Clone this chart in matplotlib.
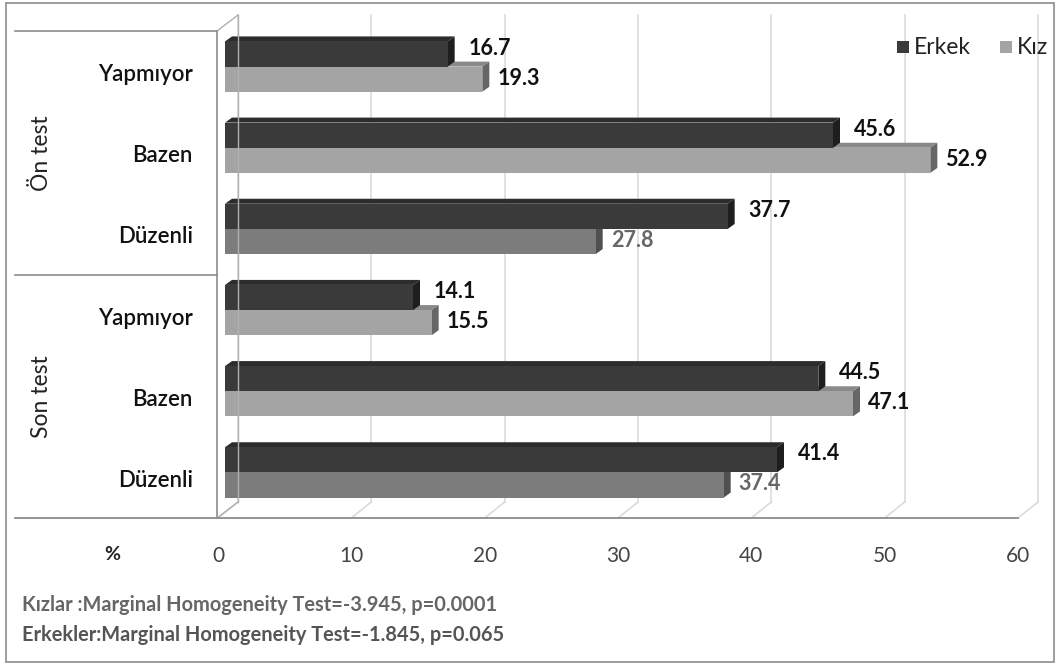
import matplotlib.pyplot as plt
from matplotlib.patches import Polygon, Rectangle
from matplotlib.transforms import IdentityTransform

# data
categories = ['Yapmıyor', 'Bazen', 'Düzenli', 'Yapmıyor', 'Bazen', 'Düzenli']
groups = ['Ön test', 'Son test']
erkek = [16.7, 45.6, 37.7, 14.1, 44.5, 41.4]
kiz = [19.3, 52.9, 27.8, 15.5, 47.1, 37.4]
x_ticks = [0, 10, 20, 30, 40, 50, 60]
series_names = ['Erkek', 'Kız']
notes = ['Kızlar :Marginal Homogeneity Test=-3.945, p=0.0001',
         'Erkekler:Marginal Homogeneity Test=-1.845, p=0.065']

# colours (the Düzenli rows of Kız came out darker in the original)
c_erkek = ('#3a3a3a', '#2c2c2c', '#1e1e1e')          # front, top, side
c_kiz = ('#a4a4a4', '#8a8a8a', '#666666')
c_kiz_dark = ('#7c7c7c', '#6a6a6a', '#505050')
kiz_dark = [False, False, True, False, False, True]

plt.rcParams['font.family'] = ['Lato', 'DejaVu Sans']

W, H = 1058, 664
fig = plt.figure(figsize=(W / 100, H / 100), dpi=100)
px = IdentityTransform()

# front plane of the chart: x 0..60 -> 218..1018 px, rows -> 31..518 px
ax = fig.add_axes([218 / W, 1 - 518 / H, 800 / W, 487 / H])
ax.set_xlim(0, 60)
ax.set_ylim(6, 0)
ax.axis('off')
fig.canvas.draw()
T = ax.transData.transform

# outer frame
fig.add_artist(Rectangle((6, 2), 1048, 659, transform=px, fill=False,
                         edgecolor='#8c8c8c', lw=1.2))

# back wall + floor (3D offset)
DX, DY = 20, 16
x0f, yfl = T((0, 6))
_, ytop = T((0, 0))
for t in x_ticks:
    xf, _ = T((t, 6))
    ax.plot([xf + DX, xf + DX], [yfl + DY, ytop + DY], transform=px,
            color='#d8d8d8', lw=1.1, zorder=0, clip_on=False)
    ax.plot([xf, xf + DX], [yfl, yfl + DY], transform=px,
            color='#d8d8d8', lw=1.1, zorder=0, clip_on=False)
# left side wall
ax.plot([x0f - 1, x0f - 1], [yfl, ytop], transform=px, color='#8c8c8c', lw=1.2, clip_on=False)
ax.plot([x0f - 1, x0f + DX], [ytop, ytop + DY], transform=px, color='#b0b0b0', lw=1.0, clip_on=False)
ax.plot([x0f + DX, x0f + DX], [yfl + DY, ytop + DY], transform=px, color='#b0b0b0', lw=1.0, clip_on=False)
ax.plot([x0f - 1, x0f + DX], [yfl, yfl + DY], transform=px, color='#b0b0b0', lw=1.0, clip_on=False)
# floor front line
xr, _ = T((60, 6))
ax.plot([15, xr], [yfl, yfl], transform=px, color='#8c8c8c', lw=1.3, clip_on=False)
# group separators
_, ymid = T((0, 3))
for yy in (ytop, ymid):
    ax.plot([15, x0f - 1], [yy, yy], transform=px, color='#8c8c8c', lw=1.2, clip_on=False)


# bars with a small 3D look
BX, BY = 7, 5      # front face offset
d = (7, 5)         # depth
h = 0.31


def bar3d(v, y_top, y_bot, cols):
    xl, yt = T((0, y_top))
    xr_, yb = T((v, y_bot))
    xl += BX
    xr_ += BX
    yt += BY
    yb += BY
    front = Polygon([(xl, yb), (xr_, yb), (xr_, yt), (xl, yt)], closed=True,
                    transform=px, facecolor=cols[0], edgecolor='none')
    top = Polygon([(xl, yt), (xr_, yt), (xr_ + d[0], yt + d[1]), (xl + d[0], yt + d[1])],
                  closed=True, transform=px, facecolor=cols[1], edgecolor='none')
    side = Polygon([(xr_, yb), (xr_, yt), (xr_ + d[0], yt + d[1]), (xr_ + d[0], yb + d[1])],
                   closed=True, transform=px, facecolor=cols[2], edgecolor='none')
    for p in (top, side, front):
        ax.add_artist(p)
    return xr_ + d[0], (yt + yb) / 2


lbl = dict(transform=px, fontsize=15.5, fontweight='bold', va='center', ha='left')
for k in range(len(categories)):
    c = k + 0.5
    cols = c_kiz_dark if kiz_dark[k] else c_kiz
    xe, ym = bar3d(kiz[k], c, c + h, cols)
    ax.text(xe + 8, ym + 1, f'{kiz[k]:.1f}',
            color='#666666' if kiz_dark[k] else '#111111', **lbl)
    xe, ym = bar3d(erkek[k], c - h, c, c_erkek)
    ax.text(xe + 14, ym + 6, f'{erkek[k]:.1f}', color='#111111', **lbl)

# category labels
for k, name in enumerate(categories):
    _, yy = T((0, k + 0.5))
    ax.text(193, yy - 3, name, transform=px, ha='right', va='center',
            fontsize=16, color='#111111', fontweight='semibold')

# group labels
for g, name in enumerate(groups):
    _, yy = T((0, 1.5 + 3 * g))
    ax.text(42, yy, name, transform=px, rotation=90, ha='center',
            va='center', fontsize=16.5, color='#222222')

# x tick labels
for t in x_ticks:
    xx, _ = T((t, 6))
    ax.text(xx, H - 556, str(t), transform=px, ha='center', va='center',
            fontsize=15, color='#444444')
ax.text(112, H - 555, '%', transform=px, ha='center', va='center',
        fontsize=14, fontweight='bold', color='#222222')

# legend
for i, (name, col) in enumerate(zip(series_names, [c_erkek[0], c_kiz[0]])):
    x_sq = [897, 1000][i]
    fig.add_artist(Rectangle((x_sq, H - 53), 12, 12, transform=px,
                             facecolor=col, edgecolor='none'))
    ax.text(x_sq + 17, H - 47, name, transform=px, ha='left', va='center',
            fontsize=16.5, color='#222222')

# footer notes
for i, note in enumerate(notes):
    ax.text(22, H - (605 + 30 * i), note, transform=px, ha='left', va='center',
            fontsize=14.4, fontweight='bold', color=['#666666', '#555555'][i])

fig.savefig('out.png', dpi=100)
